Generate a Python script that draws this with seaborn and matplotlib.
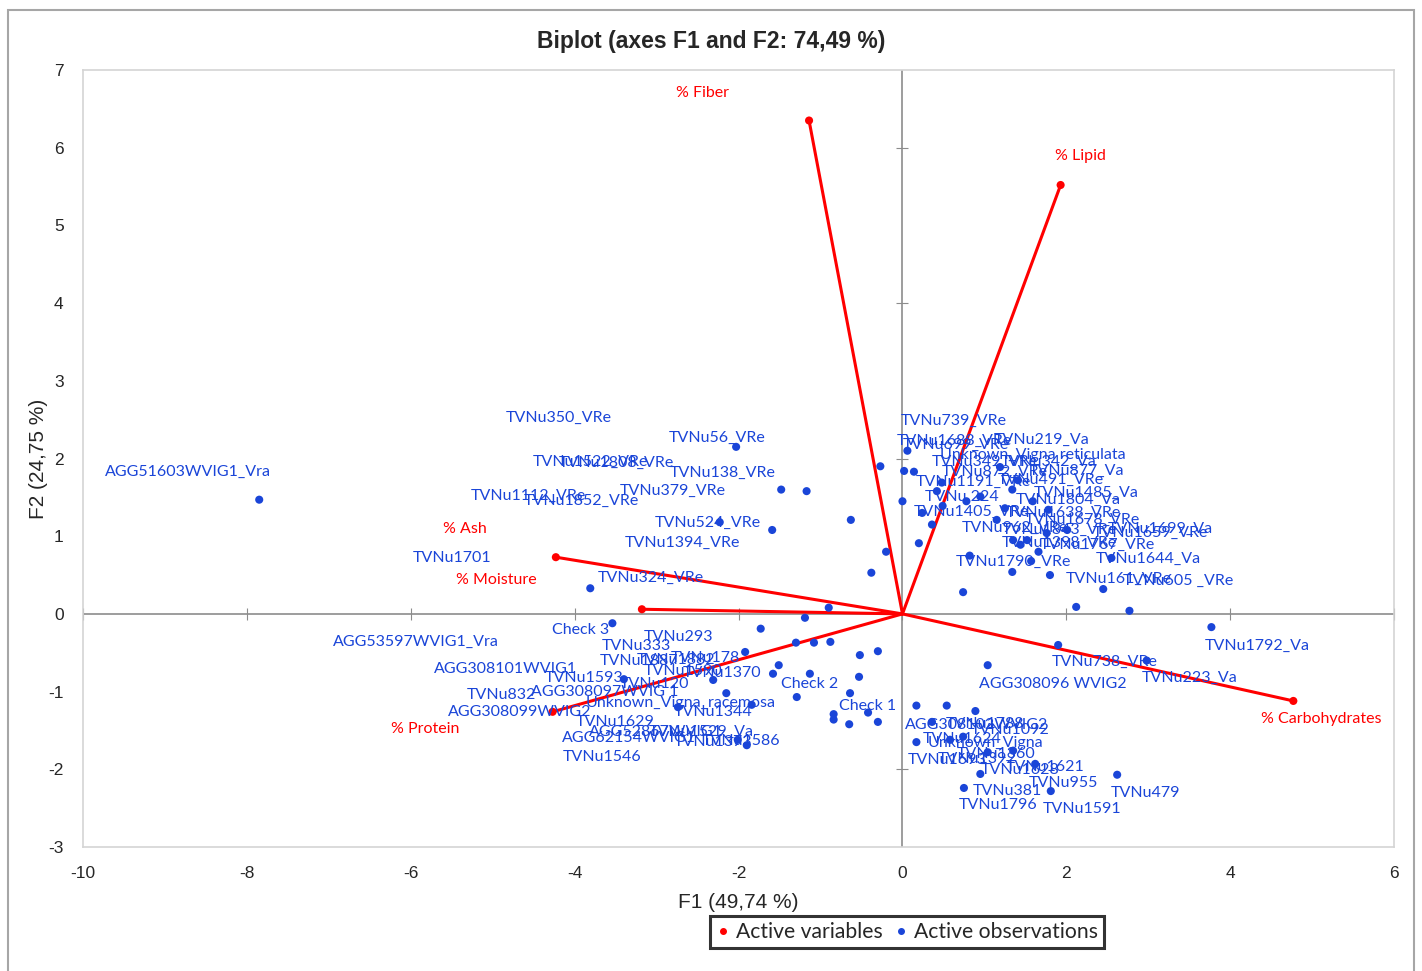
import matplotlib.pyplot as plt
from matplotlib.patches import Rectangle
from matplotlib.lines import Line2D
import seaborn as sns
import pandas as pd

sns.set_style("white")
narrow = ["Liberation Sans Narrow", "Liberation Sans", "DejaVu Sans"]
label_font = ["Lato", "DejaVu Sans"]
plt.rcParams["font.family"] = narrow
plt.rcParams["axes.unicode_minus"] = False

OBS_BLUE = "#1a45d8"
VAR_RED = "#ff0000"

# -------------------------------------------------------------
# Active variables (scaled loadings on F1 / F2)
# -------------------------------------------------------------
var_names = ["% Fiber", "% Lipid", "% Ash", "% Moisture", "% Protein", "% Carbohydrates"]
var_f1 = [-1.14, 1.93, -4.23, -3.18, -4.27, 4.77]
var_f2 = [6.35, 5.52, 0.73, 0.06, -1.26, -1.12]
# where the chart put the variable names
var_label_f1 = [-2.44, 2.17, -5.34, -4.96, -5.83, 5.11]
var_label_f2 = [6.70, 5.89, 1.09, 0.44, -1.48, -1.35]

# -------------------------------------------------------------
# Active observations (factor scores F1 / F2)
# -------------------------------------------------------------
obs_f1 = [-7.85, -3.81, -3.54, -2.03, -2.23, -1.48, -1.17, -1.59, -0.63, -0.27,
          -0.20, -0.38, -0.90, -1.19, -1.73, -1.92, -1.30, -1.08, -0.88, -1.51,
          -1.58, -1.13, -0.52, -0.30, -0.53, -0.64, -1.29, -0.42, -0.84, -0.84,
          -0.65, -0.30, -3.40, -2.31, -2.15, -1.84, -2.74, -2.01, -1.90,
          2.12, 2.77, 3.77, 1.90, 2.98, 1.04, 0.17, 0.54, 0.89, 0.36,
          0.17, 0.58, 0.74, 1.04, 1.35, 1.62, 0.95, 0.75, 1.81, 2.62,
          0.06, 0.02, 0.14, 0.00, 0.20, 0.36, 0.24, 0.49, 0.42, 0.48,
          0.78, 0.74, 0.82, 1.34, 1.57, 1.66, 1.44, 1.80, 2.45, 2.55,
          1.15, 1.19, 1.34, 1.59, 1.25, 1.41, 1.35, 1.76, 1.52, 2.01,
          1.78, 0.95]
obs_f2 = [1.47, 0.33, -0.12, 2.15, 1.18, 1.60, 1.58, 1.08, 1.21, 1.90,
          0.80, 0.53, 0.08, -0.05, -0.19, -0.49, -0.37, -0.37, -0.36, -0.66,
          -0.77, -0.77, -0.53, -0.48, -0.81, -1.02, -1.07, -1.27, -1.29, -1.36,
          -1.42, -1.39, -0.84, -0.85, -1.02, -1.17, -1.20, -1.62, -1.69,
          0.09, 0.04, -0.17, -0.40, -0.60, -0.66, -1.18, -1.18, -1.25, -1.39,
          -1.65, -1.62, -1.58, -1.78, -1.76, -1.93, -2.06, -2.24, -2.28, -2.07,
          2.10, 1.84, 1.83, 1.45, 0.91, 1.15, 1.30, 1.39, 1.58, 1.69,
          1.45, 0.28, 0.75, 0.54, 0.68, 0.80, 0.89, 0.50, 0.32, 0.72,
          1.21, 1.89, 1.60, 1.45, 1.36, 1.72, 0.95, 1.04, 0.95, 1.08,
          1.34, 1.51]

# observation names and the spot where each name was drawn
obs_labels = [
    "AGG51603WVIG1_Vra", "TVNu350_VRe", "TVNu56_VRe", "TVNu1522_VRe", "TVNu1808_VRe",
    "TVNu138_VRe", "TVNu1112_VRe", "TVNu1852_VRe", "TVNu379_VRe", "TVNu524_VRe",
    "TVNu1394_VRe", "TVNu1701", "TVNu324_VRe", "Check 3", "AGG53597WVIG1_Vra",
    "TVNu333", "TVNu293", "TVNu1887", "TVNu1882", "TVNu178",
    "AGG308101WVIG1", "TVNu1593", "TVNu120", "TVNu1590", "TVNu1370",
    "TVNu832", "AGG308097WVIG 1", "Unknown_Vigna_racemosa", "AGG308099WVIG2", "TVNu1344",
    "TVNu1629", "AGG52867WVIG1", "TVNu1529_Va", "AGG62154WVIG1", "TVNu1373",
    "TVNu1586", "TVNu1546", "Check 2", "Check 1",
    "TVNu1792_Va", "TVNu738_VRe", "TVNu223_Va", "AGG308096 WVIG2", "AGG308102WVIG2",
    "TVNu1788", "TVNu1092", "TVNu1624", "Unknown_Vigna", "TVNu1693",
    "TVNu1392", "TVNu1360", "TVNu1621", "TVNu1628", "TVNu955",
    "TVNu479", "TVNu381", "TVNu1796", "TVNu1591",
    "TVNu739_VRe", "TVNu1688_VRe", "TVNu699_VRe", "TVNu219_Va", "Unknown_Vigna reticulata",
    "TVNu349_VRe", "TVNu342_Va", "TVNu872_VRe", "TVNu877_Va", "TVNu1191_VRe",
    "TVNu491_VRe", "TVNu 224", "TVNu1485_Va", "TVNu1804_Va", "TVNu1405_VRe",
    "TVNu1638_VRe", "TVNu1678_VRe", "TVNu962_VRe", "TVNu1843_VRe", "TVNu1699_Va",
    "TVNu1659_VRe", "TVNu1398_VRe", "TVNu1767_VRe", "TVNu1790_VRe", "TVNu1644_Va",
    "TVNu161_VRe", "TVNu605 _VRe",
]
label_f1 = [
    -8.72, -4.20, -2.26, -3.81, -3.49, -2.19, -4.56, -3.92, -2.80, -2.37,
    -2.69, -5.50, -3.07, -3.93, -5.94, -3.25, -2.73, -3.21, -2.76, -2.40,
    -4.84, -3.88, -3.03, -2.68, -2.20, -4.90, -3.64, -2.71, -4.67, -2.31,
    -3.51, -3.01, -2.46, -3.34, -2.31, -1.97, -3.67, -1.13, -0.43,
    4.33, 2.47, 3.51, 1.84, 0.91, 1.01, 1.31, 0.73, 1.01, 0.55,
    0.91, 1.14, 1.74, 1.44, 1.97, 2.96, 1.28, 1.17, 2.19,
    0.62, 0.63, 0.65, 1.70, 1.59, 1.01, 1.78, 1.13, 2.12, 0.87,
    1.81, 0.73, 2.24, 2.02, 0.84, 1.96, 2.20, 1.37, 1.92, 3.15,
    3.02, 1.92, 2.38, 1.36, 3.00, 2.64, 3.36,
]
label_f2 = [
    1.83, 2.52, 2.27, 1.96, 1.94, 1.81, 1.52, 1.45, 1.58, 1.17,
    0.91, 0.72, 0.46, -0.21, -0.36, -0.41, -0.30, -0.60, -0.59, -0.57,
    -0.71, -0.82, -0.90, -0.73, -0.76, -1.04, -1.00, -1.15, -1.26, -1.26,
    -1.39, -1.52, -1.52, -1.60, -1.65, -1.63, -1.84, -0.90, -1.18,
    -0.41, -0.62, -0.82, -0.90, -1.43, -1.42, -1.49, -1.61, -1.66, -1.88,
    -1.87, -1.80, -1.97, -2.01, -2.18, -2.30, -2.28, -2.46, -2.51,
    2.48, 2.23, 2.18, 2.24, 2.05, 1.96, 1.96, 1.83, 1.84, 1.70,
    1.72, 1.51, 1.56, 1.47, 1.31, 1.30, 1.21, 1.11, 1.08, 1.09,
    1.04, 0.91, 0.89, 0.67, 0.71, 0.45, 0.42,
]

df_obs = pd.DataFrame({"F1": obs_f1, "F2": obs_f2})
df_var = pd.DataFrame({"F1": var_f1, "F2": var_f2, "name": var_names})

fig = plt.figure(figsize=(14.22, 9.71), dpi=100)
ax = fig.add_axes([0.0584, 0.1277, 0.922, 0.8002])

# zero lines with small tick marks
ax.axhline(0, color="#8c8c8c", lw=1.2, zorder=1)
ax.axvline(0, color="#8c8c8c", lw=1.2, zorder=1)
sec_x = ax.secondary_xaxis(0, transform=ax.transData)
sec_x.spines["bottom"].set_visible(False)
sec_x.tick_params(axis="x", direction="inout", length=8, color="#8c8c8c", labelbottom=False)
sec_y = ax.secondary_yaxis(0, transform=ax.transData)
sec_y.spines["left"].set_visible(False)
sec_y.tick_params(axis="y", direction="inout", length=8, color="#8c8c8c", labelleft=False)

# variable vectors
for _, row in df_var.iterrows():
    ax.plot([0, row["F1"]], [0, row["F2"]], color=VAR_RED, lw=2.2, zorder=3)
sns.scatterplot(data=df_var, x="F1", y="F2", ax=ax, color=VAR_RED, s=34,
                edgecolor="none", zorder=4, legend=False)
for name, lx, ly in zip(var_names, var_label_f1, var_label_f2):
    ax.text(lx, ly, name, color=VAR_RED, fontsize=11.5, family=label_font,
            ha="center", va="center", zorder=5)

# observations
sns.scatterplot(data=df_obs, x="F1", y="F2", ax=ax, color=OBS_BLUE, s=34,
                edgecolor="none", zorder=4, legend=False)
for name, lx, ly in zip(obs_labels, label_f1, label_f2):
    ax.text(lx, ly, name, color=OBS_BLUE, fontsize=11.5, family=label_font,
            ha="center", va="center", zorder=5)

ax.set_xlim(-10, 6)
ax.set_ylim(-3, 7)
ax.set_xticks(range(-10, 7, 2))
ax.set_yticks(range(-3, 8))
ax.tick_params(length=0, labelsize=12.5, pad=14)
for s in ax.spines.values():
    s.set_color("#d4d4d4")
    s.set_linewidth(1.2)
ax.set_xlabel("F1 (49,74 %)", fontsize=15, labelpad=8)
ax.set_ylabel("F2 (24,75 %)", fontsize=15, labelpad=0)
fig.suptitle("Biplot (axes F1 and F2: 74,49 %)", x=0.5, y=0.957, fontsize=16.5,
             fontweight="bold", va="center")

handles = [
    Line2D([], [], marker="o", ls="none", color=VAR_RED, markersize=4, label="Active variables"),
    Line2D([], [], marker="o", ls="none", color=OBS_BLUE, markersize=4, label="Active observations"),
]
leg = fig.legend(handles=handles, loc="center", bbox_to_anchor=(0.638, 0.040), ncol=2,
                 frameon=True, fancybox=False, handlelength=0.6, handletextpad=0.3,
                 columnspacing=0.6, borderpad=0.3, prop={"family": label_font, "size": 15.2})
leg.get_frame().set_edgecolor("black")
leg.get_frame().set_linewidth(2.2)

# outer screenshot frame
fig.patches.append(Rectangle((0.0056, -0.01), 0.9887, 0.9997, transform=fig.transFigure,
                             fill=False, edgecolor="#a6a6a6", lw=1.5))

fig.savefig("out.png", dpi=100)
